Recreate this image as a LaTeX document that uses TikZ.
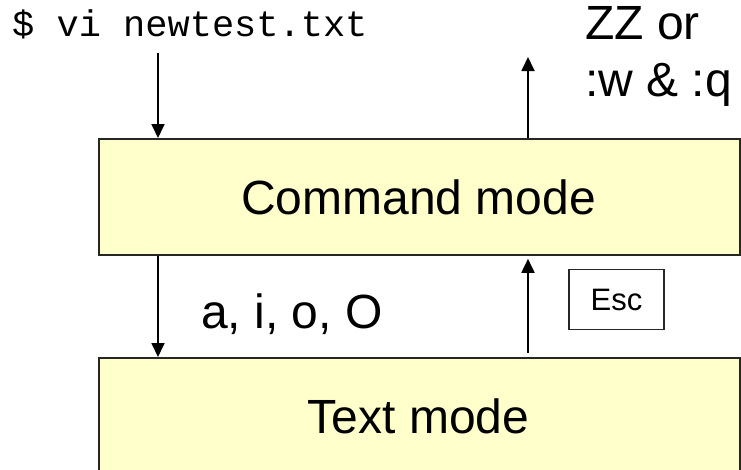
\documentclass[tikz,border=0pt]{standalone}
\usepackage{fontspec}
\setmainfont{Liberation Sans}
\newfontfamily\monofont{Liberation Mono}
\usetikzlibrary{arrows.meta}
\definecolor{boxfill}{HTML}{FFFFCC}
\tikzset{
  modebox/.style={draw=black!85, line width=1.8pt, fill=boxfill, inner sep=0pt, anchor=north west},
  bigtext/.style={font=\fontsize{48}{57}\selectfont, inner sep=0pt},
  keybox/.style={draw=black!85, line width=1.2pt, fill=white, inner sep=0pt, minimum width=95pt, minimum height=60pt, font=\fontsize{31}{37}\selectfont},
  arr/.style={line width=1.8pt, -{Triangle[length=14pt,width=13pt]}},
}
\begin{document}
\begin{tikzpicture}[x=1pt,y=-1pt]
\useasboundingbox (0,0) rectangle (741,469);
\clip (0,0) rectangle (741,469);
% boxes
\node[modebox, minimum width=641pt, minimum height=116pt] (cmd) at (98,138) {};
\node[modebox, minimum width=641pt, minimum height=130pt] (txt) at (98,357) {};
\node[bigtext] (cmdlabel) at (418.5,197) {Command mode};
\node[bigtext, anchor=base] (txtlabel) at (418.5,433) {Text mode};
% texts
\node[font=\monofont\fontsize{37}{44}\selectfont, anchor=base west, inner sep=0pt] (cmdline) at (12,36) {\$ vi newtest.txt};
\node[bigtext, anchor=base west] (zz) at (585,39) {ZZ or};
\node[bigtext, anchor=base west] (wq) at (585,96) {:w \& :q};
\node[bigtext, anchor=base west] (aioo) at (201,328) {a, i, o, O};
\node[keybox] (esc) at (616.5,299.5) {Esc};
% connectors
\coordinate (start) at (158,53);
\coordinate (exit) at (528,57);
\draw[arr] (start) -- (start |- cmd.north);
\draw[arr] (exit |- cmd.north) -- (exit);
\draw[arr] (start |- cmd.south) -- (start |- txt.north);
\draw[arr, shorten >=3pt, shorten <=4pt] (exit |- txt.north) -- (exit |- cmd.south);
\end{tikzpicture}
\end{document}
